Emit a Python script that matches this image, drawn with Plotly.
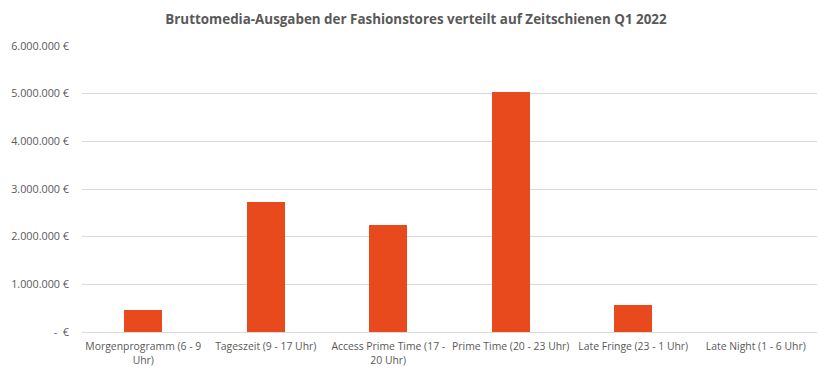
import plotly.graph_objects as go

categories = [
    "Morgenprogramm (6 - 9<br>Uhr)",
    "Tageszeit (9 - 17 Uhr)",
    "Access Prime Time (17 -<br>20 Uhr)",
    "Prime Time (20 - 23 Uhr)",
    "Late Fringe (23 - 1 Uhr)",
    "Late Night (1 - 6 Uhr)",
]
values = [470000, 2730000, 2240000, 5030000, 570000, 0]
tick_vals = [0, 1000000, 2000000, 3000000, 4000000, 5000000, 6000000]
tick_text = ["-  €", "1.000.000 €", "2.000.000 €", "3.000.000 €", "4.000.000 €", "5.000.000 €", "6.000.000 €"]

font_family = "Open Sans, Noto Sans, sans-serif"
grey = "#595959"

fig = go.Figure(go.Bar(
    x=categories, y=values,
    marker=dict(color="#E8491D", line=dict(width=0)),
    width=0.31,
))

fig.update_layout(
    width=816, height=368,
    margin=dict(l=74, r=7, t=38, b=44),
    paper_bgcolor="white", plot_bgcolor="white",
    title=dict(
        text="<b>Bruttomedia-Ausgaben der Fashionstores verteilt auf Zeitschienen Q1 2022</b>",
        x=0.5, xanchor="center", y=0.97, yanchor="middle",
        font=dict(family=font_family, size=13.4, color=grey),
    ),
    font=dict(family=font_family, size=10, color=grey),
    showlegend=False,
    bargap=0,
)
fig.update_yaxes(
    range=[0, 6000000], tickvals=tick_vals, ticktext=tick_text,
    showgrid=True, gridcolor="#d9d9d9", gridwidth=1,
    zeroline=True, zerolinecolor="#d9d9d9", zerolinewidth=1,
    showline=False, ticks="", ticklabelstandoff=12, automargin=False,
    tickfont=dict(size=10.8, color=grey),
)
fig.update_xaxes(
    showline=False, ticks="", showgrid=False, automargin=False,
    ticklabelstandoff=7,
    tickfont=dict(size=10.4, color=grey), tickangle=0,
)

fig.write_html("out.html")
